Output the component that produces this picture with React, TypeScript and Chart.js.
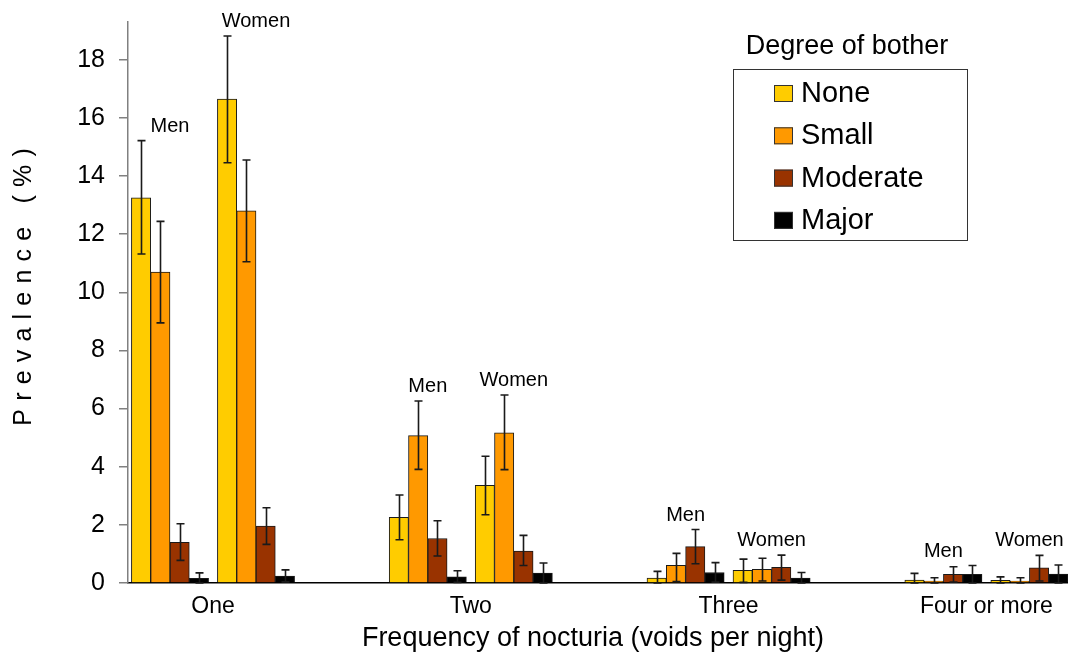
import React, { useEffect, useRef } from 'react';
import { Chart, registerables } from 'chart.js';

Chart.register(...registerables);

const FONT = "'Liberation Sans', Arial, sans-serif";

const categories = ['One', 'Two', 'Three', 'Four or more'];
const levels = ['None', 'Small', 'Moderate', 'Major'];
const sexes = ['Men', 'Women'];
const levelColors = ['#FFCC00', '#FF9900', '#993300', '#000000'];
const yTitle = 'Prevalence (%)';
const xTitle = 'Frequency of nocturia (voids per night)';
const legendTitle = 'Degree of bother';

// Prevalence (%) per category: One, Two, Three, Four or more
const menNone = [13.25, 2.26, 0.17, 0.1];
const menSmall = [10.7, 5.07, 0.61, 0.07];
const menModerate = [1.4, 1.53, 1.25, 0.3];
const menMajor = [0.16, 0.21, 0.36, 0.3];
const womenNone = [16.65, 3.36, 0.44, 0.09];
const womenSmall = [12.8, 5.17, 0.47, 0.07];
const womenModerate = [1.96, 1.1, 0.54, 0.52];
const womenMajor = [0.24, 0.34, 0.17, 0.31];

// Confidence intervals [low, high]
const menNoneCI = [[11.32, 15.22], [1.49, 3.03], [0, 0.4], [0, 0.33]];
const menSmallCI = [[8.95, 12.44], [3.91, 6.26], [0.05, 1.02], [0, 0.18]];
const menModerateCI = [[0.78, 2.04], [0.93, 2.14], [0.66, 1.84], [0.03, 0.56]];
const menMajorCI = [[0, 0.35], [0.02, 0.42], [0.03, 0.7], [0, 0.6]];
const womenNoneCI = [[14.46, 18.82], [2.35, 4.36], [0.02, 0.82], [0, 0.21]];
const womenSmallCI = [[11.05, 14.55], [3.9, 6.47], [0.07, 0.85], [0, 0.18]];
const womenModerateCI = [[1.33, 2.59], [0.6, 1.64], [0.1, 0.96], [0.07, 0.95]];
const womenMajorCI = [[0.04, 0.45], [0, 0.69], [0, 0.36], [0, 0.62]];

const menSeries = [menNone, menSmall, menModerate, menMajor];
const womenSeries = [womenNone, womenSmall, womenModerate, womenMajor];
const menCI = [menNoneCI, menSmallCI, menModerateCI, menMajorCI];
const womenCI = [womenNoneCI, womenSmallCI, womenModerateCI, womenMajorCI];

// layout constants (axis range in category units, bar geometry in px)
const X_MIN = -0.3297;
const X_MAX = 3.3165;
const PX_PER_UNIT = 940 / (X_MAX - X_MIN);
const BAR_W = 19.3;
const SUB_GAP_HALF = 43;

const errorBarsPlugin = {
  id: 'errorBars',
  afterDatasetsDraw(chart: any) {
    const ctx = chart.ctx;
    const y = chart.scales.y;
    ctx.save();
    ctx.strokeStyle = '#1a1a1a';
    ctx.lineWidth = 1.6;
    chart.data.datasets.forEach((ds: any, di: number) => {
      const meta = chart.getDatasetMeta(di);
      meta.data.forEach((bar: any, i: number) => {
        const [lo, hi] = ds.ci[i];
        const x = Math.round(bar.x) + 0.5;
        const yl = y.getPixelForValue(lo);
        const yh = y.getPixelForValue(hi);
        ctx.beginPath();
        ctx.moveTo(x, yl);
        ctx.lineTo(x, yh);
        ctx.moveTo(x - 4, yl);
        ctx.lineTo(x + 4, yl);
        ctx.moveTo(x - 4, yh);
        ctx.lineTo(x + 4, yh);
        ctx.stroke();
      });
    });
    ctx.restore();
  },
};

const annotationsPlugin = {
  id: 'annotations',
  afterDraw(chart: any) {
    const ctx = chart.ctx;
    const y = chart.scales.y;
    ctx.save();
    ctx.fillStyle = '#000';

    // Men / Women labels above each subgroup
    ctx.font = `20px ${FONT}`;
    ctx.textAlign = 'center';
    ctx.textBaseline = 'alphabetic';
    sexes.forEach((sex) => {
      const idxs = chart.data.datasets
        .map((ds: any, di: number) => (ds.sex === sex ? di : -1))
        .filter((di: number) => di >= 0);
      categories.forEach((_, i) => {
        let sx = 0;
        let top = -Infinity;
        idxs.forEach((di: number) => {
          const bar = chart.getDatasetMeta(di).data[i];
          sx += bar.x;
          top = Math.max(top, chart.data.datasets[di].ci[i][1]);
        });
        const cx = sx / idxs.length;
        ctx.fillText(sex, cx, y.getPixelForValue(top) - 9);
      });
    });

    // x title
    ctx.font = `27px ${FONT}`;
    ctx.fillText(xTitle, 593, 646);

    // y title with letter spacing
    ctx.save();
    ctx.translate(31, 287);
    ctx.rotate(-Math.PI / 2);
    ctx.font = `25px ${FONT}`;
    ctx.textAlign = 'left';
    const spacing = 8.2;
    const chars = yTitle.split('');
    const widths = chars.map((c) => ctx.measureText(c).width);
    const total = widths.reduce((a, b) => a + b, 0) + spacing * (chars.length - 1);
    let px = -total / 2;
    chars.forEach((c, k) => {
      ctx.fillText(c, px, 0);
      px += widths[k] + spacing;
    });
    ctx.restore();

    // Legend
    ctx.textAlign = 'center';
    ctx.font = `27px ${FONT}`;
    ctx.fillText(legendTitle, 847, 54);
    ctx.strokeStyle = '#333';
    ctx.lineWidth = 1;
    ctx.strokeRect(733.5, 69.5, 234, 171);
    ctx.font = `29px ${FONT}`;
    ctx.textAlign = 'left';
    levels.forEach((lv, k) => {
      const base = 102 + k * 42.3;
      ctx.fillStyle = levelColors[k];
      ctx.fillRect(774, base - 17, 19, 17);
      ctx.strokeStyle = '#333';
      ctx.strokeRect(774.5, base - 16.5, 18, 16);
      ctx.fillStyle = '#000';
      ctx.fillText(lv, 801, base);
    });
    ctx.restore();
  },
};

export default function App() {
  const canvasRef = useRef<HTMLCanvasElement | null>(null);

  useEffect(() => {
    if (!canvasRef.current) return;
    Chart.defaults.font.family = FONT;
    Chart.defaults.color = '#000';

    const datasets: any[] = [];
    const barAxes: any = {};
    sexes.forEach((sex, s) => {
      const series = s === 0 ? menSeries : womenSeries;
      const cis = s === 0 ? menCI : womenCI;
      levels.forEach((lv, k) => {
        const axisId = `x${s}${k}`;
        // shift (in category units) of this bar's centre from the group centre
        const shiftPx = (s === 0 ? -SUB_GAP_HALF : SUB_GAP_HALF) + (k - 1.5) * BAR_W;
        const shift = shiftPx / PX_PER_UNIT;
        barAxes[axisId] = {
          type: 'linear',
          display: false,
          offset: false,
          bounds: 'data',
          grid: { offset: false },
          min: X_MIN - shift,
          max: X_MAX - shift,
          ticks: { stepSize: 1, includeBounds: false },
        };
        datasets.push({
          label: `${sex} ${lv}`,
          sex,
          ci: cis[k],
          data: series[k].map((v, i) => ({ x: i, y: v })),
          xAxisID: axisId,
          grouped: false,
          backgroundColor: levelColors[k],
          borderColor: '#1a1a1a',
          borderWidth: 1,
          borderSkipped: 'bottom',
          barThickness: BAR_W,
        });
      });
    });

    const chart = new Chart(canvasRef.current, {
      type: 'bar',
      data: { datasets },
      plugins: [errorBarsPlugin, annotationsPlugin],
      options: {
        animation: false,
        responsive: false,
        devicePixelRatio: 1,
        layout: { padding: { top: 22, right: 0, left: 0, bottom: 0 } },
        plugins: { legend: { display: false }, tooltip: { enabled: false } },
        scales: {
          x: {
            type: 'linear',
            position: 'bottom',
            offset: false,
            bounds: 'data',
            min: X_MIN,
            max: X_MAX,
            afterFit: (scale: any) => {
              scale.height = 70;
              scale.paddingLeft = 0;
              scale.paddingRight = 0;
            },
            afterBuildTicks: (scale: any) => {
              scale.ticks = categories.map((_, i) => ({ value: i }));
            },
            grid: { display: false, drawTicks: false, offset: false },
            border: { display: true, color: '#000', width: 1.5 },
            ticks: {
              autoSkip: false,
              maxRotation: 0,
              padding: 10,
              font: { size: 23 },
              color: '#000',
              callback: (v: any) => categories[v] ?? '',
            },
          },
          ...barAxes,
          y: {
            min: 0,
            max: 19.3,
            bounds: 'data',
            afterFit: (scale: any) => {
              scale.width = 128;
              scale.paddingTop = 0;
              scale.paddingBottom = 0;
            },
            grid: {
              display: true,
              drawOnChartArea: false,
              drawTicks: true,
              tickLength: 9,
              color: '#808080',
              lineWidth: 1.5,
            },
            border: { display: true, color: '#808080', width: 1.5 },
            ticks: {
              stepSize: 2,
              includeBounds: false,
              padding: 14,
              font: { size: 25 },
              color: '#000',
            },
          },
        },
      } as any,
    });

    return () => chart.destroy();
  }, []);

  return (
    <div style={{ position: 'absolute', left: 0, top: 0, width: 1068, height: 653, background: '#fff' }}>
      <canvas ref={canvasRef} width={1068} height={653} style={{ width: 1068, height: 653, display: 'block' }} />
    </div>
  );
}
